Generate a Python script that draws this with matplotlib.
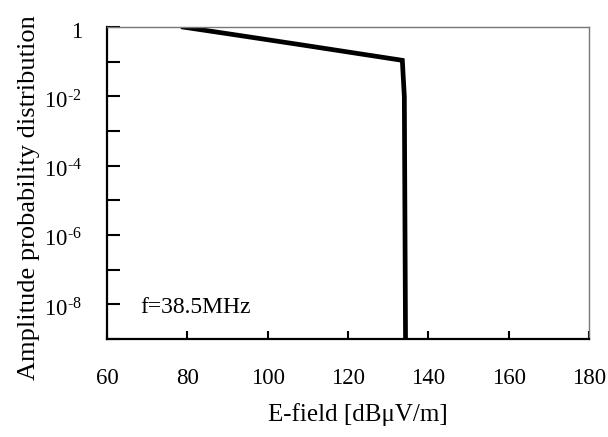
import math

import matplotlib
matplotlib.use("Agg")
import matplotlib.pyplot as plt
import matplotlib.transforms as mtransforms
from matplotlib.ticker import FixedLocator, FuncFormatter

plt.rcParams["font.family"] = ["Liberation Serif", "DejaVu Serif"]
plt.rcParams["mathtext.fontset"] = "custom"
plt.rcParams["mathtext.rm"] = "Liberation Serif"
plt.rcParams["mathtext.it"] = "Liberation Serif:italic"

# Amplitude probability distribution of the E-field at 38.5 MHz
efield = [79, 94, 109, 133.5, 134.0, 134.3]
apd = [1.0, 0.55, 0.30, 0.11, 1e-2, 1e-9]

x_ticks = [60, 80, 100, 120, 140, 160, 180]
y_ticks = [10.0 ** k for k in range(-9, 1)]
freq_label = "f=38.5MHz"

FS = 16.5

fig = plt.figure(figsize=(6.08, 4.37), dpi=100)
ax = fig.add_axes([0.176, 0.224, 0.793, 0.714])

ax.plot(efield, apd, color="black", lw=3.4, solid_joinstyle="miter")

ax.set_yscale("log")
ax.set_xlim(60, 180)
ax.set_ylim(1e-9, 1)

ax.xaxis.set_major_locator(FixedLocator(x_ticks))
ax.yaxis.set_major_locator(FixedLocator(y_ticks))
ax.yaxis.set_minor_locator(FixedLocator([]))


def ylab(v, pos):
    k = int(round(math.log10(v)))
    if k == 0:
        return "1"
    if k % 2 == 0 and k > -9:
        return r"$\mathrm{10}^{\text{-}%d}$" % (-k)
    return ""


ax.yaxis.set_major_formatter(FuncFormatter(ylab))
ax.tick_params(axis="both", direction="in", labelsize=FS, width=1.5, color="black")
ax.tick_params(axis="x", length=6, pad=21)
ax.tick_params(axis="y", length=9, pad=18)

# the scanned labels sit a little below their ticks, "1" most of all
for tick in ax.yaxis.get_major_ticks():
    dy = -7 if tick.get_loc() == 1.0 else -2
    off = mtransforms.ScaledTranslation(0, dy / 72, fig.dpi_scale_trans)
    tick.label1.set_transform(tick.label1.get_transform() + off)

for side in ("left", "bottom"):
    ax.spines[side].set_linewidth(1.6)
    ax.spines[side].set_color("black")
for side in ("top", "right"):
    ax.spines[side].set_linewidth(1.0)
    ax.spines[side].set_color("#777777")

ax.set_xlabel("E-field [dBμV/m]", fontsize=18)
ax.set_ylabel("Amplitude probability distribution", fontsize=19)
ax.xaxis.set_label_coords(0.521, -0.205)
ax.yaxis.set_label_coords(-0.14, 0.455)

ax.text(68.2, 10 ** -8.1, freq_label, fontsize=17, ha="left", va="center")

fig.savefig("out.png", dpi=100)
plt.close(fig)
